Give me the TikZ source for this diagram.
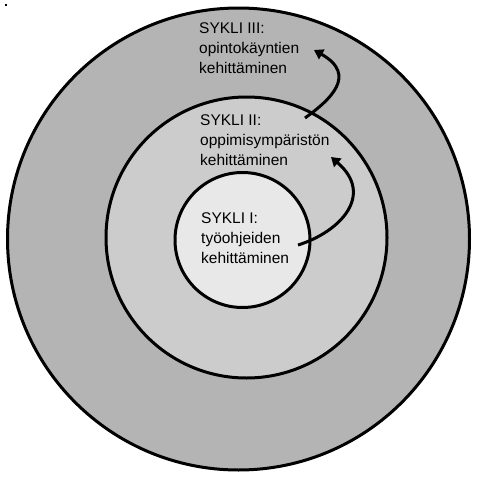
\documentclass[tikz,border=0pt]{standalone}
\usepackage{fontspec}
\setmainfont{Liberation Sans}
\usetikzlibrary{arrows.meta}

\tikzset{
    ring/.style={draw=black, line width=3pt},
    cyclelabel/.style={anchor=north west, inner sep=0pt, align=left, font=\fontsize{15.5}{20}\selectfont},
    cyclearrow/.style={line width=3pt, -{Triangle[width=11pt,length=9pt]}}
}

\begin{document}
\begin{tikzpicture}[x=1pt, y=-1pt]
    \useasboundingbox[fill=white] (0,0) rectangle (477,477);

    % Stray mark
    \fill (5,4) rectangle (7,6);

    % Rings
    \draw[ring, fill={rgb,255:red,180;green,180;blue,180}] (238.5,239) circle (231);
    \draw[ring, fill={rgb,255:red,204;green,204;blue,204}] (246.5,237.5) circle (140.5);
    \draw[ring, fill={rgb,255:red,232;green,232;blue,232}] (242.5,240) circle (67.5);

    % Labels
    \node[cyclelabel] (sykli3) at (199,22) {SYKLI III:\\opintokäyntien\\kehittäminen};
    \node[cyclelabel] (sykli2) at (200,114) {SYKLI II:\\oppimisympäristön\\kehittäminen};
    \node[cyclelabel] (sykli1) at (201,212) {SYKLI I:\\työohjeiden\\kehittäminen};

    % Arrow ends
    \coordinate (from1) at (298,245);
    \coordinate (to1) at (331,157);
    \coordinate (from2) at (305,118);
    \coordinate (to2) at (314,50);

    % Arrows
    \draw[cyclearrow] (from1) .. controls (340,232) and (375,195) .. (to1);
    \draw[cyclearrow] (from2) .. controls (330,100) and (358,75) .. (to2);
\end{tikzpicture}
\end{document}
